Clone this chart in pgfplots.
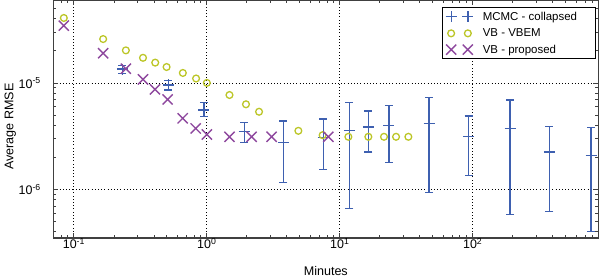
\documentclass[border=0pt]{standalone}
\usepackage{pgfplots}
\pgfplotsset{compat=1.18}
\usepackage{fontspec}
\setmainfont{Liberation Sans}
\definecolor{mcmcblue}{RGB}{62,96,176}
\definecolor{vbgreen}{RGB}{188,198,40}
\definecolor{vbpurple}{RGB}{142,72,158}
\pgfplotsset{twomarks/.style={legend image code/.code={\path (-8.3bp,0bp) (31bp,0bp);\draw[##1] plot coordinates {(0bp,0bp) (16.7bp,0bp)};}}}
\begin{document}
\begin{tikzpicture}
\begin{axis}[
  name=ax,
  xmode=log, ymode=log,
  scale only axis, width=545bp, height=238bp,
  xmin=0.07, xmax=880, ymin=3.5e-7, ymax=6e-5,
  xtick={0.1,1,10,100},
  xticklabels={10\textsuperscript{-1},10\textsuperscript{0},10\textsuperscript{1},10\textsuperscript{2}},
  ytick={1e-6,1e-5},
  yticklabels={10\textsuperscript{-6},10\textsuperscript{-5}},
  minor xtick={0.08,0.09,0.2,0.3,0.4,0.5,0.6,0.7,0.8,0.9,2,3,4,5,6,7,8,9,20,30,40,50,60,70,80,90,200,300,400,500,600,700,800},
  minor ytick={4e-7,5e-7,6e-7,7e-7,8e-7,9e-7,2e-6,3e-6,4e-6,5e-6,6e-6,7e-6,8e-6,9e-6,2e-5,3e-5,4e-5,5e-5},
  tick align=inside,
  major tick length=5bp, minor tick length=3bp,
  tick style={black!75, line width=0.8bp},
  grid=major,
  major grid style={black, dash pattern=on 0.8bp off 2.4bp, line width=0.8bp},
  axis line style={black!75, line width=1.2bp},
  tick label style={font=\fontsize{12.5}{14}\selectfont},
  xticklabel style={yshift=3bp},
  yticklabel style={xshift=-9bp},
  xlabel={Minutes},
  ylabel={Average RMSE},
  every axis x label/.style={at={(axis description cs:0.5,0)}, anchor=center, yshift=-33bp, font=\fontsize{12.6}{14}\selectfont},
  every axis y label/.style={at={(axis description cs:-0.079,0.468)}, anchor=center, rotate=90, font=\fontsize{12.6}{14}\selectfont},
  legend style={at={(1,1)}, anchor=north east, xshift=-2.3bp, yshift=-6.7bp,
    draw=black, line width=0.9bp, fill=white,
    font=\fontsize{11.5}{13}\selectfont, inner xsep=0bp, inner ysep=4bp, row sep=6.5bp,
    nodes={inner xsep=0bp, inner ysep=0bp}},
  legend cell align=left,
]
\addplot[only marks, mark=+, mark size=5.5bp, color=mcmcblue, line width=1.3bp, twomarks,
  error bars/.cd, y dir=both, y explicit,
  error bar style={line width=1.3bp, color=mcmcblue},
  error mark options={rotate=90, mark size=4bp, line width=1.3bp, color=mcmcblue}]
table[x=x, y=y, y error plus=ep, y error minus=em] {
x y ep em
0.232 1.35e-5 0.10e-5 0.13e-5
0.512 9.57e-6 0.93e-6 0.97e-6
0.951 5.56e-6 0.96e-6 0.75e-6
1.91 3.52e-6 0.74e-6 0.76e-6
3.76 2.76e-6 1.64e-6 1.59e-6
7.5 3.08e-6 1.49e-6 1.53e-6
11.8 3.60e-6 2.92e-6 2.94e-6
16.4 3.85e-6 1.60e-6 1.60e-6
23.4 3.96e-6 2.20e-6 2.17e-6
46.9 4.13e-6 3.20e-6 3.20e-6
93.3 3.12e-6 1.76e-6 1.76e-6
191 3.74e-6 3.16e-6 3.16e-6
377 2.25e-6 1.62e-6 1.625e-6
776 2.09e-6 1.73e-6 1.69e-6
};
\addlegendentry{\makebox[112.7bp][l]{MCMC - collapsed}}
\addplot[only marks, mark=o, mark size=3.4bp, color=vbgreen, line width=1.3bp, twomarks]
table {
x y
0.084 4.07e-5
0.166 2.58e-5
0.246 2.02e-5
0.331 1.72e-5
0.409 1.55e-5
0.498 1.41e-5
0.66 1.24e-5
0.83 1.10e-5
1.0 1.00e-5
1.48 7.7e-6
1.97 6.3e-6
2.47 5.36e-6
4.88 3.55e-6
7.43 3.23e-6
11.6 3.12e-6
16.4 3.12e-6
21.5 3.12e-6
26.5 3.12e-6
32.8 3.12e-6
};
\addlegendentry{VB - VBEM}
\addplot[only marks, mark=x, mark size=7.2bp, color=vbpurple, line width=1.4bp, twomarks]
table {
x y
0.084 3.45e-5
0.166 1.90e-5
0.246 1.36e-5
0.331 1.08e-5
0.407 8.7e-6
0.507 7.0e-6
0.658 4.65e-6
0.824 3.74e-6
1.0 3.28e-6
1.48 3.12e-6
2.17 3.12e-6
3.07 3.12e-6
8.2 3.12e-6
};
\addlegendentry{VB - proposed}
\end{axis}
\pgfresetboundingbox
\path[use as bounding box] ([xshift=-53.3bp,yshift=-40bp]ax.south west) rectangle ([xshift=1.7bp]ax.north east);
\end{tikzpicture}
\end{document}
